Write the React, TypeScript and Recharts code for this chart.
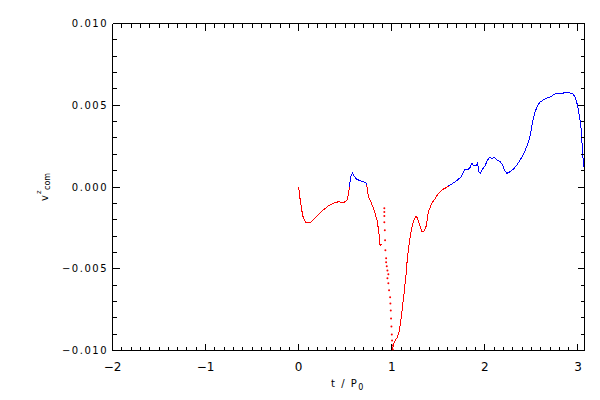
import React from 'react'
import { ComposedChart, Line, XAxis, YAxis } from 'recharts'

// t / P0 and v^z_com, one pair of arrays per coloured stretch
const redATime = [0, 0.014, 0.032, 0.05, 0.078, 0.12, 0.157, 0.21, 0.265, 0.32, 0.372, 0.426, 0.48, 0.516, 0.533, 0.545]
const redAVel = [0, -0.0007, -0.0014, -0.0019, -0.0022, -0.0022, -0.002, -0.0017, -0.0014, -0.00115, -0.001, -0.0009, -0.00096, -0.00084, -0.0005, 0]

const blueATime = [0.545, 0.559, 0.577, 0.595, 0.624, 0.66, 0.695, 0.724, 0.732]
const blueAVel = [0, 0.00063, 0.00084, 0.00067, 0.00047, 0.00039, 0.00033, 0.00023, 0.0001]

const redBTime = [0.732, 0.738, 0.749, 0.774, 0.796, 0.82, 0.845, 0.863, 0.874, 0.882, 0.892]
const redBVel = [0.0001, -0.00018, -0.0006, -0.0009, -0.0012, -0.0016, -0.0021, -0.0029, -0.0036, -0.0035, -0.0035]

// the sparse dotted drop just before t = 1
const dotsTime = [0.92, 0.92, 0.92, 0.92, 0.925, 0.928, 0.931, 0.939, 0.939, 0.946, 0.953, 0.963, 0.953, 0.963, 0.971, 0.982, 0.985, 0.989, 0.992, 0.996, 1.0, 1.003, 1.006, 1.011]
const dotsVel = [-0.0013, -0.00153, -0.00178, -0.00215, -0.00264, -0.00325, -0.00387, -0.00436, -0.0046, -0.00485, -0.0051, -0.00534, -0.00558, -0.00589, -0.00632, -0.00675, -0.00712, -0.00755, -0.00804, -0.00853, -0.00902, -0.00939, -0.00969, -0.00994]

const redCTime = [1.011, 1.017, 1.035, 1.06, 1.082, 1.107, 1.132, 1.154, 1.168, 1.186, 1.204, 1.222, 1.24, 1.261, 1.275, 1.297, 1.322, 1.347, 1.369, 1.394, 1.43, 1.466, 1.5, 1.538, 1.59, 1.61]
const redCVel = [-0.0099, -0.0096, -0.0094, -0.0092, -0.0088, -0.0077, -0.0065, -0.0053, -0.0043, -0.0035, -0.0028, -0.0023, -0.002, -0.0018, -0.0019, -0.0023, -0.0027, -0.0027, -0.0024, -0.0015, -0.001, -0.0007, -0.0004, -0.00018, -0.00002, 0.00006]

const blueBTime = [1.61, 1.645, 1.7, 1.742, 1.77, 1.788, 1.824, 1.842, 1.86, 1.877, 1.903, 1.92, 1.938, 1.95, 1.968, 2.003, 2.02, 2.046, 2.075, 2.1, 2.129, 2.165, 2.194, 2.211, 2.237, 2.272, 2.308, 2.344, 2.38, 2.415, 2.452, 2.48, 2.498, 2.516, 2.54, 2.566, 2.594, 2.648, 2.7, 2.756, 2.81, 2.88, 2.945, 2.97, 2.995, 3.017, 3.035, 3.049, 3.06, 3.07]
const blueBVel = [0.00006, 0.00018, 0.0004, 0.0006, 0.0009, 0.0011, 0.0011, 0.0012, 0.00145, 0.0013, 0.0013, 0.00145, 0.0009, 0.00084, 0.00104, 0.0013, 0.00155, 0.0018, 0.00176, 0.0018, 0.00166, 0.00155, 0.0013, 0.001, 0.00084, 0.00094, 0.0011, 0.00135, 0.00166, 0.002, 0.0025, 0.003, 0.0035, 0.0041, 0.0046, 0.005, 0.0052, 0.0054, 0.0055, 0.0057, 0.0057, 0.0058, 0.0057, 0.0055, 0.005, 0.0043, 0.0035, 0.0021, 0.00145, 0.001]

const xMajor = [-2, -1, 0, 1, 2, 3]
const yMajor = [-0.01, -0.005, 0, 0.005, 0.01]

const X_MIN = -2
const X_MAX = 3.07
const Y_MIN = -0.01
const Y_MAX = 0.01

const xTicks = Array.from({ length: 51 }, (_, i) => +(X_MIN + i * 0.1).toFixed(2))
const yTicks = Array.from({ length: 21 }, (_, i) => +(Y_MIN + i * 0.001).toFixed(4))

const zip = (t: number[], v: number[]) => t.map((x, i) => ({ t: x, v: v[i] }))

const isMajor = (value: number, majors: number[]) => majors.some(m => Math.abs(m - value) < 1e-9)
const minus = (s: string) => s.replace('-', '\u2212')
const FONT = 'DejaVu Sans'

function BottomTick({ x, y, payload }: any) {
  const major = isMajor(payload.value, xMajor)
  return (
    <g>
      <line x1={x} y1={y} x2={x} y2={y - (major ? 7 : 4)} stroke="#000" shapeRendering="crispEdges" />
      {major && (
        <text x={x} y={y + 20} textAnchor="middle" fontSize={12} fontFamily={FONT} fill="#000">
          {minus(String(Math.round(payload.value)))}
        </text>
      )}
    </g>
  )
}

function TopTick({ x, y, payload }: any) {
  const major = isMajor(payload.value, xMajor)
  return <line x1={x} y1={y} x2={x} y2={y + (major ? 7 : 4)} stroke="#000" shapeRendering="crispEdges" />
}

function LeftTick({ x, y, payload }: any) {
  const major = isMajor(payload.value, yMajor)
  const label = Math.abs(payload.value) < 1e-9 ? '0.000' : minus(payload.value.toFixed(3))
  return (
    <g>
      <line x1={x} y1={y} x2={x + (major ? 7 : 4)} y2={y} stroke="#000" shapeRendering="crispEdges" />
      {major && (
        <text x={x - 4.5} y={y + 3.7} textAnchor="end" fontSize={10} letterSpacing={1.5} fontFamily={FONT} fill="#000">
          {label}
        </text>
      )}
    </g>
  )
}

function RightTick({ x, y, payload }: any) {
  const major = isMajor(payload.value, yMajor)
  return <line x1={x} y1={y} x2={x - (major ? 7 : 4)} y2={y} stroke="#000" shapeRendering="crispEdges" />
}

// v^z_com, written bottom-to-top
function YLabel() {
  return (
    <g transform="translate(48,201) rotate(-90)">
      <text x={0} y={0} fontSize={10} fontFamily={FONT} fill="#000">v</text>
      <text x={7} y={-7} fontSize={7} fontFamily={FONT} fill="#000">z</text>
      <text x={11} y={2} fontSize={8} fontFamily={FONT} fill="#000">com</text>
    </g>
  )
}

function XLabel() {
  return (
    <text x={348} y={387} textAnchor="middle" fontSize={10} letterSpacing={1.5} fontFamily={FONT} fill="#000">
      t  /  P<tspan fontSize={8} dy={3}>0</tspan>
    </text>
  )
}

export default function App() {
  return (
    <div style={{ position: 'absolute', left: 0, top: 0, background: '#fff' }}>
      <ComposedChart width={600} height={400} margin={{ top: 0, right: 0, bottom: 0, left: 0 }}>
        <XAxis
          xAxisId="bottom"
          dataKey="t"
          type="number"
          domain={[X_MIN, X_MAX]}
          ticks={xTicks}
          interval={0}
          tickSize={0}
          tickMargin={0}
          tickLine={false}
          tick={<BottomTick />}
          axisLine={{ stroke: '#000', shapeRendering: 'crispEdges' }}
          height={49.5}
          label={<XLabel />}
          allowDataOverflow
        />
        <XAxis
          xAxisId="top"
          orientation="top"
          dataKey="t"
          type="number"
          domain={[X_MIN, X_MAX]}
          ticks={xTicks}
          interval={0}
          tickSize={0}
          tickMargin={0}
          tickLine={false}
          tick={<TopTick />}
          axisLine={{ stroke: '#000', shapeRendering: 'crispEdges' }}
          height={23.5}
          allowDataOverflow
        />
        <YAxis
          yAxisId="left"
          type="number"
          domain={[Y_MIN, Y_MAX]}
          ticks={yTicks}
          interval={0}
          tickSize={0}
          tickMargin={0}
          tickLine={false}
          tick={<LeftTick />}
          axisLine={{ stroke: '#000', shapeRendering: 'crispEdges' }}
          width={112.5}
          label={<YLabel />}
          allowDataOverflow
        />
        <YAxis
          yAxisId="right"
          orientation="right"
          type="number"
          domain={[Y_MIN, Y_MAX]}
          ticks={yTicks}
          interval={0}
          tickSize={0}
          tickMargin={0}
          tickLine={false}
          tick={<RightTick />}
          axisLine={{ stroke: '#000', shapeRendering: 'crispEdges' }}
          width={15.5}
          allowDataOverflow
        />
        <Line xAxisId="top" yAxisId="right" data={zip([X_MIN, X_MAX], [0, 0])} dataKey="v" stroke="none" dot={false} isAnimationActive={false} />
        <Line xAxisId="bottom" yAxisId="left" data={zip(redATime, redAVel)} dataKey="v" type="linear" stroke="#ff0000" strokeWidth={1} shapeRendering="crispEdges" dot={false} isAnimationActive={false} />
        <Line xAxisId="bottom" yAxisId="left" data={zip(blueATime, blueAVel)} dataKey="v" type="linear" stroke="#0000ff" strokeWidth={1} shapeRendering="crispEdges" dot={false} isAnimationActive={false} />
        <Line xAxisId="bottom" yAxisId="left" data={zip(redBTime, redBVel)} dataKey="v" type="linear" stroke="#ff0000" strokeWidth={1} shapeRendering="crispEdges" dot={false} isAnimationActive={false} />
        <Line xAxisId="bottom" yAxisId="left" data={zip(dotsTime, dotsVel)} dataKey="v" type="linear" stroke="none" dot={{ r: 1, fill: '#ff0000', stroke: 'none' }} isAnimationActive={false} />
        <Line xAxisId="bottom" yAxisId="left" data={zip(redCTime, redCVel)} dataKey="v" type="linear" stroke="#ff0000" strokeWidth={1} shapeRendering="crispEdges" dot={false} isAnimationActive={false} />
        <Line xAxisId="bottom" yAxisId="left" data={zip(blueBTime, blueBVel)} dataKey="v" type="linear" stroke="#0000ff" strokeWidth={1} shapeRendering="crispEdges" dot={false} isAnimationActive={false} />
      </ComposedChart>
    </div>
  )
}
